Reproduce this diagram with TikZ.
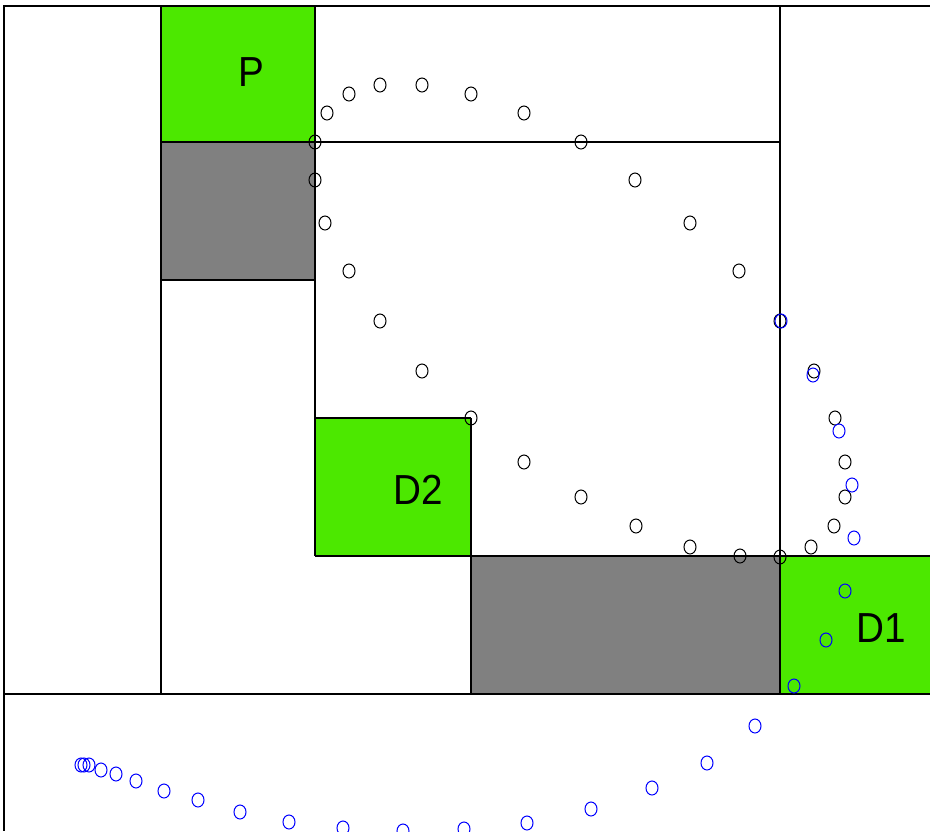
\documentclass[tikz,border=0pt]{standalone}
\usepackage{fontspec}
\setmainfont{Liberation Sans}
\definecolor{lgreen}{RGB}{76,232,0}
\definecolor{mgray}{RGB}{128,128,128}
\tikzset{
  frame/.style={draw=black,line width=1.7pt},
  pt/.style={draw=black,line width=1pt},
  bpt/.style={draw=blue,line width=1pt},
  lbl/.style={font=\fontsize{42}{42}\selectfont,inner sep=0pt,xscale=0.92}
}
\begin{document}
\begin{tikzpicture}[x=1pt,y=-1pt]
\useasboundingbox (0,0) rectangle (930,831);
\fill[white] (0,0) rectangle (930,831);
% filled boxes
\fill[lgreen] (161,6) rectangle (315,142);
\fill[mgray] (161,142) rectangle (315,280);
\fill[lgreen] (315,418) rectangle (471,556);
\fill[mgray] (471,556) rectangle (780,694);
\fill[lgreen] (780,556) rectangle (930,694);
% lines
\draw[frame] (930,6) -- (4,6) -- (4,831);
\draw[frame] (161,6) -- (161,694);
\draw[frame] (315,6) -- (315,556);
\draw[frame] (780,6) -- (780,694);
\draw[frame] (471,418) -- (471,694);
\draw[frame] (161,142) -- (780,142);
\draw[frame] (161,280) -- (315,280);
\draw[frame] (315,418) -- (471,418);
\draw[frame] (315,556) -- (930,556);
\draw[frame] (4,694) -- (930,694);
% labels
\node[lbl] (P) at (251,72) {P};
\node[lbl] (D2) at (418,490) {D2};
\node[lbl] (D1) at (881,628) {D1};
% black points
\foreach \x/\y in {327/113,349/94,380/85,422/85,471/94,524/113,581/142,635/180,690/223,739/271,780/321,814/371,835/418,845/462,845/497,834/526,811/547,780/557,740/556,690/547,636/526,581/497,524/462,471/418,422/371,380/321,349/271,325/223,315/180,315/142}
  \draw[pt] (\x,\y) ellipse [x radius=6, y radius=7];
% blue points
\foreach \x/\y in {781/321,813/375,839/431,852/485,854/538,845/591,826/640,794/686,755/726,707/763,652/788,591/809,527/823,464/829,403/831,343/828,289/822,240/812,198/800,164/791,136/781,116/774,101/770,89/765,84/765,81/765}
  \draw[bpt] (\x,\y) ellipse [x radius=6, y radius=7];
\end{tikzpicture}
\end{document}
